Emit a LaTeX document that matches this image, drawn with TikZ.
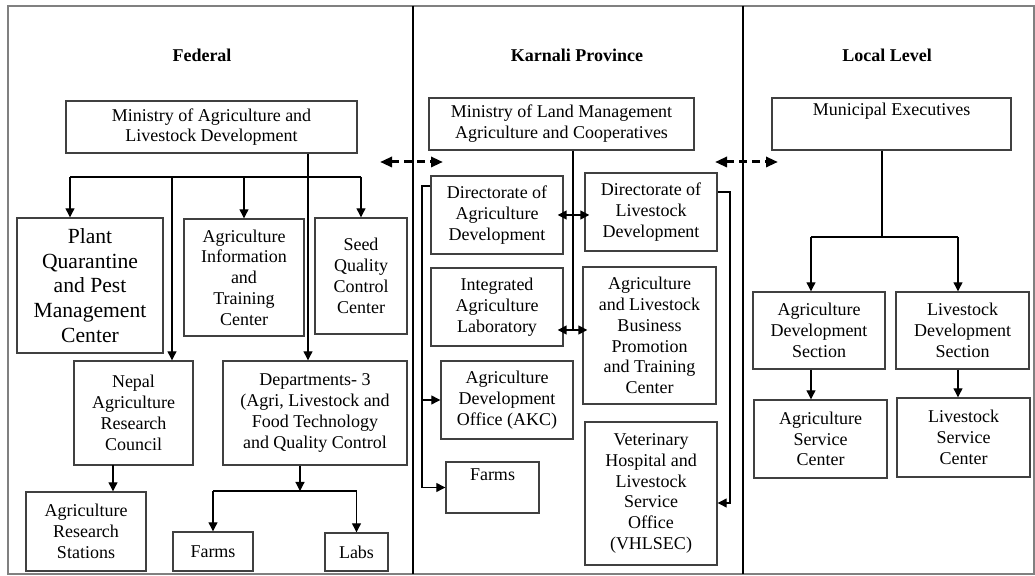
\documentclass[tikz,border=0pt]{standalone}
\usepackage{fontspec}
\setmainfont{Liberation Serif}
\usetikzlibrary{arrows.meta}

\tikzset{
  wh/.style 2 args={minimum width=#1*0.5pt, minimum height=#2*0.5pt},
  box/.style={draw=black!75, line width=0.7pt, align=center, inner sep=0pt,
    font=\fontsize{9}{10.4}\selectfont},
  head/.style={font=\fontsize{9}{10.4}\selectfont\bfseries},
  link/.style={line width=0.6pt},
  arr/.style={-{Triangle[length=4.5pt,width=4.5pt]}, line width=0.6pt},
  darr/.style={{Triangle[length=4.5pt,width=4.5pt]}-{Triangle[length=4.5pt,width=4.5pt]},
    line width=0.8pt, shorten <=-3pt, shorten >=-2.5pt},
  dasharr/.style={{Triangle[length=6pt,width=5pt]}-{Triangle[length=6pt,width=5pt]},
    line width=1.5pt, dash pattern=on 4pt off 2.5pt}
}

\begin{document}
\begin{tikzpicture}[x=5pt,y=-5pt]
    \useasboundingbox (0,0) rectangle (103.5,57.6);
    % frame and level dividers
    \draw[black!50, line width=0.6pt] (0.8,0.6) rectangle (103.4,57.4);
    \draw[line width=1.1pt] (41.3,0.6) -- (41.3,57.4);
    \draw[line width=1.1pt] (74.3,0.6) -- (74.3,57.4);
    \node[head] (hfed) at (20.2,5.5) {Federal};
    \node[head] (hkar) at (57.7,5.5) {Karnali Province};
    \node[head] (hloc) at (88.7,5.5) {Local Level};

    % Federal
    \node[box, wh={291}{52}] (fmin) at (21.15,12.7) {Ministry of Agriculture and\\Livestock Development};
    \node[box, wh={146}{135}, font=\fontsize{10.8}{12.4}\selectfont] (fpqm) at (9.0,28.55) {Plant\\Quarantine\\and Pest\\Management\\Center};
    \node[box, wh={120}{117}] (faitc) at (24.4,27.75) {Agriculture\\Information\\and\\Training\\Center};
    \node[box, wh={92}{116}] (fseed) at (36.1,27.6) {Seed\\Quality\\Control\\Center};
    \node[box, wh={119}{104}] (fnarc) at (13.35,41.3) {Nepal\\Agriculture\\Research\\Council};
    \node[box, wh={184}{104}] (fdep) at (31.5,41.3) {Departments- 3\\(Agri, Livestock and\\Food Technology\\and Quality Control};
    \node[box, wh={120}{79}] (fars) at (8.6,53.15) {Agriculture\\Research\\Stations};
    \node[box, wh={80}{39}] (ffarm) at (21.3,55.15) {Farms};
    \node[box, wh={63}{38}] (flab) at (35.65,55.2) {Labs};

    \coordinate (fbl) at (7,17.7);
    \coordinate (fbr) at (36.1,17.7);
    \coordinate (fmid) at (30.8,17.7);
    \coordinate (fnk) at (17.2,17.7);
    \coordinate (fnr) at (11.3,46.5);
    \coordinate (fdk) at (30,49.1);
    \draw[link] (fbl) -- (fbr);
    \draw[arr] (fmid |- fmin.south) -- (fmid |- fdep.north);
    \draw[arr] (fbl) -- (fbl |- fpqm.north);
    \draw[arr] (faitc.north |- fbl) -- (faitc.north);
    \draw[arr] (fbr) -- (fseed.north);
    \draw[arr] (fnk) -- (fnk |- fnarc.north);
    \draw[arr] (fnr) -- (fnr |- fars.north);
    \draw[arr] (fdk |- fdep.south) -- (fdk);
    \draw[link] (ffarm.north |- fdk) -- (flab.north |- fdk);
    \draw[arr] (ffarm.north |- fdk) -- (ffarm.north);
    \draw[arr] (flab.north |- fdk) -- (flab.north);

    % Karnali Province
    \node[box, wh={265}{52}] (kmin) at (56.15,12.4) {Ministry of Land Management\\Agriculture and Cooperatives};
    \node[box, wh={132}{78}] (kdad) at (49.7,21.5) {Directorate of\\Agriculture\\Development};
    \node[box, wh={132}{78}] (kdld) at (65.1,21.2) {Directorate of\\Livestock\\Development};
    \node[box, wh={132}{78}] (kial) at (49.7,30.7) {Integrated\\Agriculture\\Laboratory};
    \node[box, wh={133}{137}] (kalbp) at (64.95,33.55) {Agriculture\\and Livestock\\Business\\Promotion\\and Training\\Center};
    \node[box, wh={132}{78}] (kakc) at (50.7,40.0) {Agriculture\\Development\\Office (AKC)};
    \node[box, wh={93}{51}] (kfarm) at (49.25,48.75) {Farms\\[2pt]};
    \node[box, wh={132}{143}] (kvet) at (65.1,49.35) {Veterinary\\Hospital and\\Livestock\\Service\\Office\\(VHLSEC)};

    \coordinate (kt) at (57.3,33.0);
    \coordinate (kl) at (42.2,18.6);
    \coordinate (kr) at (73.0,19.2);
    \coordinate (kr2) at (73.0,50.3);
    \draw[link] (kt |- kmin.south) -- (kt);
    \draw[darr] (kdad.east) -- (kdad.east -| kdld.west);
    \draw[darr] (kt -| kial.east) -- (kt -| kalbp.west);
    \draw[arr] (kl -| kdad.west) -- (kl) |- (kfarm.west);
    \draw[arr] (kl |- kakc.west) -- (kakc.west);
    \draw[arr] (kr -| kdld.east) -- (kr) -- (kr2) -- (kr2 -| kvet.east);

    % links between levels
    \coordinate (d1) at (38,16.2);
    \coordinate (d2) at (44.3,16.2);
    \coordinate (d3) at (71.5,16.2);
    \coordinate (d4) at (77.8,16.2);
    \draw[dasharr] (d1) -- (d2);
    \draw[dasharr] (d3) -- (d4);

    % Local Level
    \node[box, wh={239}{52}] (lme) at (89.15,12.4) {Municipal Executives\\[4pt]};
    \node[box, wh={132}{77}] (lads) at (81.9,33.05) {Agriculture\\Development\\Section};
    \node[box, wh={133}{77}] (llds) at (96.25,33.05) {Livestock\\Development\\Section};
    \node[box, wh={133}{78}] (lasc) at (82.05,43.9) {Agriculture\\Service\\Center};
    \node[box, wh={133}{79}] (llsc) at (96.35,43.75) {Livestock\\Service\\Center};

    \coordinate (lj) at (88.2,23.7);
    \coordinate (lbl) at (81.1,23.7);
    \coordinate (lbr) at (95.8,23.7);
    \draw[link] (lj |- lme.south) -- (lj);
    \draw[link] (lbl) -- (lbr);
    \draw[arr] (lbl) -- (lbl |- lads.north);
    \draw[arr] (lbr) -- (lbr |- llds.north);
    \draw[arr] (lbl |- lads.south) -- (lbl |- lasc.north);
    \draw[arr] (lbr |- llds.south) -- (lbr |- llsc.north);
\end{tikzpicture}
\end{document}
